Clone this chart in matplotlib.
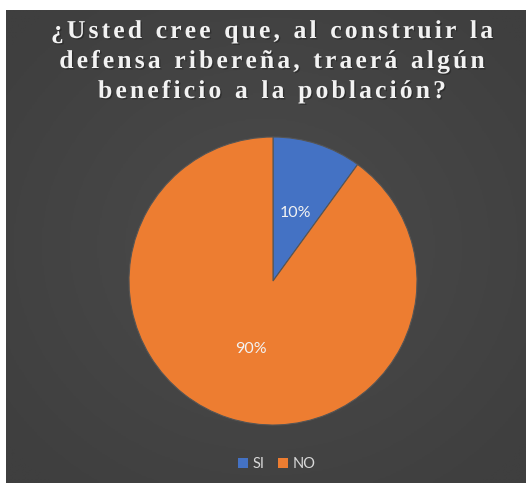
import numpy as np
import matplotlib
matplotlib.use('Agg')
import matplotlib.pyplot as plt
from matplotlib.textpath import TextToPath
from matplotlib.font_manager import FontProperties
import matplotlib.patheffects as pe

# survey answers
categories = ['SI', 'NO']
shares = [10, 90]
colors = ['#4472C4', '#ED7D31']
title_lines = ['¿Usted cree que, al construir la',
               'defensa ribereña, traerá algún',
               'beneficio a la población?']

W, H, DPI = 526, 483, 100
fig = plt.figure(figsize=(W / DPI, H / DPI), dpi=DPI, facecolor='white')

# dark chart area with a soft radial glow
bg = fig.add_axes([6 / W, 0, (W - 6) / W, (H - 10) / H])
yy, xx = np.mgrid[-1:1:200j, -1:1:200j]
glow = np.clip(1 - np.sqrt(xx ** 2 + yy ** 2) / 1.3, 0, 1)
bg.imshow(glow, cmap=matplotlib.colors.LinearSegmentedColormap.from_list(
    'bg', ['#3f3f3f', '#4b4b4b']), extent=(0, 1, 0, 1), aspect='auto', vmin=0, vmax=1)
bg.set_axis_off()


def tracked_text(line, cx, baseline, size, spacing, prop):
    ''' draw one title line char by char so letters can be spread out '''
    t2p = TextToPath()
    px = DPI / 72.0
    widths = []
    for c in line:
        if c == ' ':
            widths.append(0.25 * size * px + 1)
        else:
            w = t2p.get_text_width_height_descent(c, prop, ismath=False)[0]
            widths.append(w * px)
    total = sum(widths) + spacing * (len(line) - 1)
    x = cx - total / 2
    for c, w in zip(line, widths):
        fig.text(x / W, 1 - baseline / H, c, fontproperties=prop,
                 color='#f2f2f2', ha='left', va='baseline',
                 path_effects=[pe.withSimplePatchShadow(offset=(1, -1), shadow_rgbFace='#222222', alpha=0.6)])
        x += w + spacing


title_font = FontProperties(family='Liberation Serif', weight='bold', size=18.5)
for i, line in enumerate(title_lines):
    tracked_text(line, 272, 38 + 30 * i, 18.5, 3.1, title_font)

# pie
cx, cy, r = 273, 281, 144
side = 2.5 * r
ax = fig.add_axes([(cx - side / 2) / W, (H - cy - side / 2) / H, side / W, side / H])
wedges, texts = ax.pie(shares, colors=colors, startangle=90, counterclock=False,
                       labels=['%d%%' % s for s in shares], labeldistance=0.5,
                       wedgeprops=dict(edgecolor='#555555', linewidth=0.8),
                       textprops=dict(color='#f2f2f2', fontsize=11.5, family='Lato'))
for t in texts:
    t.set_horizontalalignment('center')
    t.set_verticalalignment('center')
ax.set_xlim(-1.25, 1.25)
ax.set_ylim(-1.25, 1.25)
ax.set_aspect('equal')
ax.set_axis_off()

leg = fig.legend(wedges, categories, loc='center', bbox_to_anchor=(277 / W, 1 - 464 / H),
                 ncol=2, frameon=False, handlelength=0.65, handleheight=0.65,
                 handletextpad=0.35, columnspacing=0.9,
                 prop=dict(family='Lato', size=10.5))
for t in leg.get_texts():
    t.set_color('#d9d9d9')
for h in leg.legend_handles:
    h.set_edgecolor('none')

fig.savefig('out.png', dpi=DPI, facecolor='white')
